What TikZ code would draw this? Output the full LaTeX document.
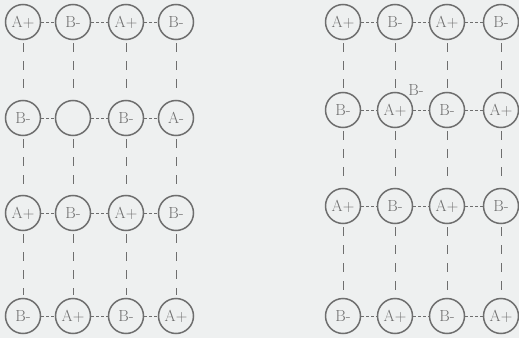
\documentclass[tikz,border=0pt]{standalone}
\usepackage{xcolor}
\usepackage{tikz}
\definecolor{paper}{RGB}{238,240,240}
\definecolor{ink}{RGB}{110,110,110}

\begin{document}
\begin{tikzpicture}[
  x=1pt, y=1pt,
  font=\fontsize{16}{18}\selectfont, text=ink,
  site/.style={draw=ink, circle, line width=1.5pt, minimum size=35pt, inner sep=0pt},
  hlink/.style={draw=ink, line width=.8pt, dash pattern=on 3pt off 2pt},
  vlink/.style={draw=ink, line width=.8pt, dash pattern=on 9pt off 9pt, shorten <=3pt, shorten >=3pt}
]
  \fill[paper] (0,0) rectangle (519,338);
  \useasboundingbox (0,0) rectangle (519,338);
  % left lattice
  \node[site] (la1) at (23,316) {A+};
  \node[site] (la2) at (73,316) {B-};
  \node[site] (la3) at (126,316) {A+};
  \node[site] (la4) at (176,316) {B-};
  \node[site] (lb1) at (23,220) {B-};
  \node[site] (lb2) at (73,220) {};
  \node[site] (lb3) at (126,220) {B-};
  \node[site] (lb4) at (176,220) {A-};
  \node[site] (lc1) at (23,125) {A+};
  \node[site] (lc2) at (73,125) {B-};
  \node[site] (lc3) at (126,125) {A+};
  \node[site] (lc4) at (176,125) {B-};
  \node[site] (ld1) at (23,22) {B-};
  \node[site] (ld2) at (73,22) {A+};
  \node[site] (ld3) at (126,22) {B-};
  \node[site] (ld4) at (176,22) {A+};
  % right lattice
  \node[site] (ra1) at (343,316) {A+};
  \node[site] (ra2) at (395,316) {B-};
  \node[site] (ra3) at (447,316) {A+};
  \node[site] (ra4) at (501,316) {B-};
  \node[site] (rb1) at (343,228) {B-};
  \node[site] (rb2) at (395,228) {A+};
  \node[site] (rb3) at (447,228) {B-};
  \node[site] (rb4) at (501,228) {A+};
  \node[site] (rc1) at (343,132) {A+};
  \node[site] (rc2) at (395,132) {B-};
  \node[site] (rc3) at (447,132) {A+};
  \node[site] (rc4) at (501,132) {B-};
  \node[site] (rd1) at (343,22) {B-};
  \node[site] (rd2) at (395,22) {A+};
  \node[site] (rd3) at (447,22) {B-};
  \node[site] (rd4) at (501,22) {A+};
  \node (extra) at (416,248) {B-};
  % rows
  \draw[hlink] (la1) -- (la2) -- (la3) -- (la4);
  \draw[hlink] (lb1) -- (lb2) -- (lb3) -- (lb4);
  \draw[hlink] (lc1) -- (lc2) -- (lc3) -- (lc4);
  \draw[hlink] (ld1) -- (ld2) -- (ld3) -- (ld4);
  \draw[hlink] (ra1) -- (ra2) -- (ra3) -- (ra4);
  \draw[hlink] (rb1) -- (rb2) -- (rb3) -- (rb4);
  \draw[hlink] (rc1) -- (rc2) -- (rc3) -- (rc4);
  \draw[hlink] (rd1) -- (rd2) -- (rd3) -- (rd4);
  % columns
  \draw[vlink] (la1) -- (lb1); \draw[vlink] (lb1) -- (lc1); \draw[vlink] (lc1) -- (ld1);
  \draw[vlink] (la2) -- (lb2); \draw[vlink] (lb2) -- (lc2); \draw[vlink] (lc2) -- (ld2);
  \draw[vlink] (la3) -- (lb3); \draw[vlink] (lb3) -- (lc3); \draw[vlink] (lc3) -- (ld3);
  \draw[vlink] (la4) -- (lb4); \draw[vlink] (lb4) -- (lc4); \draw[vlink] (lc4) -- (ld4);
  \draw[vlink] (ra1) -- (rb1); \draw[vlink] (rb1) -- (rc1); \draw[vlink] (rc1) -- (rd1);
  \draw[vlink] (ra2) -- (rb2); \draw[vlink] (rb2) -- (rc2); \draw[vlink] (rc2) -- (rd2);
  \draw[vlink] (ra3) -- (rb3); \draw[vlink] (rb3) -- (rc3); \draw[vlink] (rc3) -- (rd3);
  \draw[vlink] (ra4) -- (rb4); \draw[vlink] (rb4) -- (rc4); \draw[vlink] (rc4) -- (rd4);
\end{tikzpicture}
\end{document}
